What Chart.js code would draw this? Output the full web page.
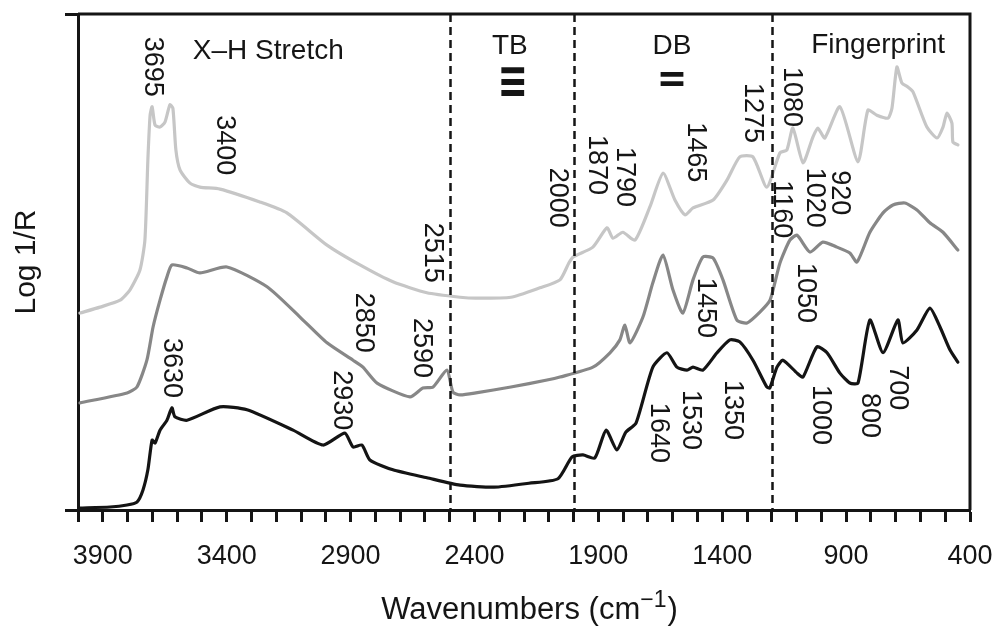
<!DOCTYPE html>
<html>
<head>
<meta charset="utf-8">
<script src="https://cdn.jsdelivr.net/npm/chart.js@4"></script>
<style>
  body { margin: 0; background: #fff; }
  #wrap { width: 997px; height: 626px; }
</style>
</head>
<body>
<div id="wrap"><canvas id="myChart" width="997" height="626"></canvas></div>
<script>
// spectra: wavenumber (cm-1) and log 1/R (arbitrary units)
const lightWn = [3992, 3911, 3830, 3790, 3750, 3730, 3718, 3709, 3701, 3689, 3669, 3649, 3629, 3617, 3605, 3588, 3548, 3508, 3427, 3266, 3157, 2995, 2862, 2729, 2592, 2458, 2394, 2253, 2136, 2055, 2019, 2002, 1922, 1865, 1841, 1801, 1752, 1692, 1639, 1591, 1550, 1518, 1437, 1381, 1329, 1276, 1220, 1167, 1139, 1115, 1074, 1034, 1014, 986, 925, 852, 812, 776, 731, 715, 695, 675, 651, 630, 574, 533, 509, 493, 473, 469, 449];
const lightLog = [39.7, 40.9, 42.3, 44.4, 48.4, 54.4, 70.6, 79.6, 81.3, 77.6, 77.2, 78.2, 81.7, 81.0, 72.6, 68.5, 65.9, 65.1, 64.7, 62.1, 59.9, 53.4, 49.4, 46.0, 43.8, 42.9, 42.7, 42.9, 44.8, 46.4, 49.8, 51.0, 53.0, 56.9, 54.8, 56.0, 54.4, 61.1, 67.9, 62.5, 59.5, 60.9, 62.5, 66.5, 71.2, 71.2, 65.1, 72.0, 72.6, 77.0, 70.0, 75.2, 77.0, 75.0, 81.3, 70.2, 80.6, 79.6, 79.0, 81.0, 89.3, 86.1, 85.3, 84.3, 77.2, 75.0, 77.2, 80.0, 78.0, 74.2, 73.6];

const midWn = [3992, 3802, 3762, 3722, 3697, 3669, 3641, 3621, 3560, 3508, 3399, 3237, 3104, 2995, 2890, 2850, 2793, 2660, 2608, 2567, 2511, 2487, 2458, 2394, 2253, 2107, 2055, 1922, 1853, 1813, 1793, 1772, 1720, 1680, 1639, 1599, 1559, 1518, 1478, 1437, 1397, 1341, 1300, 1248, 1207, 1167, 1127, 1098, 1046, 994, 937, 885, 856, 804, 751, 711, 663, 614, 562, 509, 449];
const midLog = [21.6, 23.6, 24.8, 30.2, 36.9, 42.3, 47.0, 49.4, 48.8, 47.8, 49.0, 45.0, 38.9, 33.7, 30.2, 28.8, 25.6, 22.8, 24.6, 24.8, 28.2, 23.8, 23.2, 23.6, 24.8, 26.2, 26.8, 28.8, 31.7, 34.3, 37.3, 33.7, 38.9, 45.8, 51.4, 44.4, 39.7, 46.4, 51.0, 50.8, 46.4, 38.3, 37.7, 39.9, 42.3, 49.8, 54.4, 55.4, 52.0, 54.0, 53.0, 51.8, 50.0, 56.0, 59.9, 61.5, 61.9, 60.5, 57.9, 56.0, 52.4];

const darkWn = [3992, 3871, 3802, 3762, 3738, 3718, 3701, 3689, 3669, 3641, 3621, 3609, 3560, 3427, 3318, 3132, 3011, 2923, 2890, 2854, 2822, 2729, 2592, 2458, 2321, 2180, 2063, 2006, 1962, 1914, 1869, 1825, 1789, 1748, 1680, 1623, 1583, 1542, 1518, 1478, 1421, 1369, 1329, 1276, 1220, 1208, 1179, 1155, 1098, 1074, 1018, 977, 925, 885, 852, 804, 751, 691, 671, 614, 562, 521, 481, 449];
const darkLog = [0.4, 0.6, 1.0, 1.6, 4.0, 8.1, 14.1, 13.5, 16.1, 18.1, 20.6, 18.8, 18.1, 20.8, 20.2, 16.1, 13.1, 15.5, 12.7, 13.1, 10.1, 8.1, 6.5, 5.0, 4.6, 5.4, 6.3, 10.7, 11.1, 10.5, 16.1, 12.1, 15.7, 17.5, 28.8, 31.7, 28.8, 28.2, 28.8, 28.2, 31.7, 34.3, 33.9, 30.2, 24.8, 24.6, 28.8, 30.2, 27.6, 26.8, 32.9, 31.7, 27.6, 25.6, 25.6, 38.3, 31.7, 38.3, 33.7, 36.3, 40.7, 36.9, 32.3, 29.8];

const tickLabels = [3900, 3400, 2900, 2400, 1900, 1400, 900, 400];
const regionBounds = [2500, 2000, 1200];

// band assignments: label, wavenumber of its centre, log 1/R at its start
const peakLabels = [
    ['3695', 3701, 95.4], ['3400', 3407, 79.6], ['2515', 2571, 57.9], ['2850', 2846, 43.8],
    ['2590', 2612, 38.7], ['3630', 3621, 34.7], ['2930', 2935, 28.2], ['2000', 2067, 69.0],
    ['1870', 1906, 75.6], ['1790', 1793, 73.2], ['1465', 1510, 78.2], ['1275', 1280, 86.1],
    ['1080', 1119, 89.3], ['1160', 1159, 66.5], ['1020', 1026, 69.0], ['920', 925, 68.5],
    ['1050', 1066, 49.8], ['1450', 1466, 46.8], ['1640', 1659, 21.6], ['1530', 1530, 24.2],
    ['1350', 1357, 26.2], ['1000', 1002, 25.2], ['800', 804, 23.6], ['700', 691, 29.2]
];
const regionLabels = [
    ['X\u2013H Stretch', 3232, 90.9], ['TB', 2257, 91.9], ['DB', 1603, 91.9], ['Fingerprint', 771, 92.1]
];
// symbol, wavenumber, log 1/R of its centre, horizontal and vertical stretch
const bondLabels = [['\u2261', 2245, 85.7, 1.4, 2.0], ['=', 1603, 86.5, 1.4, 1.6]];

const FONT = "'Liberation Sans', Arial, Helvetica, sans-serif";
const INK = '#151515';

function toPoints(wn, vals){
    let pts = [];
    for(let i = 0; i < wn.length; i++){
        pts.push({x: wn[i], y: vals[i]});
    }
    return pts;
}

const spectraDecor = {
    id: 'spectraDecor',
    afterDatasetsDraw(chart) {
        const { ctx, chartArea: {left, right, top, bottom}, scales: {x, y} } = chart;
        ctx.save();
        ctx.fillStyle = INK;

        // region names
        ctx.font = '28px ' + FONT;
        ctx.textAlign = 'center';
        ctx.textBaseline = 'alphabetic';
        regionLabels.forEach(([t, wn, v]) => {
            ctx.fillText(t, x.getPixelForValue(wn), y.getPixelForValue(v));
        });

        // bond symbols, stretched like the original
        bondLabels.forEach(([t, wn, v, sx, sy]) => {
            ctx.save();
            ctx.translate(x.getPixelForValue(wn), y.getPixelForValue(v));
            ctx.scale(sx, sy);
            ctx.font = "bold 26px 'DejaVu Sans', sans-serif";
            ctx.textAlign = 'center';
            ctx.textBaseline = 'middle';
            ctx.fillText(t, 0, 0);
            ctx.restore();
        });

        // rotated band labels
        ctx.font = '27px ' + FONT;
        ctx.textAlign = 'left';
        ctx.textBaseline = 'middle';
        peakLabels.forEach(([t, wn, v]) => {
            ctx.save();
            ctx.translate(x.getPixelForValue(wn), y.getPixelForValue(v));
            ctx.rotate(Math.PI / 2);
            ctx.fillText(t, 0, 0);
            ctx.restore();
        });

        // dashed region boundaries
        ctx.strokeStyle = INK;
        ctx.lineWidth = 2.5;
        ctx.setLineDash([8, 5]);
        regionBounds.forEach((wn) => {
            const px = Math.round(x.getPixelForValue(wn)) + 0.5;
            ctx.beginPath();
            ctx.moveTo(px, top);
            ctx.lineTo(px, bottom);
            ctx.stroke();
        });
        ctx.setLineDash([]);

        // frame: top and right
        ctx.lineWidth = 3;
        ctx.beginPath();
        ctx.moveTo(left, top);
        ctx.lineTo(right, top);
        ctx.lineTo(right, bottom);
        ctx.stroke();

        // x axis title with superscript
        const cx = (left + right) / 2 + 5;
        const base = 619;
        const mainFont = '31px ' + FONT, supFont = '23px ' + FONT;
        ctx.textAlign = 'left';
        ctx.textBaseline = 'alphabetic';
        ctx.font = mainFont;
        const w1 = ctx.measureText('Wavenumbers (cm').width;
        const w3 = ctx.measureText(')').width;
        ctx.font = supFont;
        const w2 = ctx.measureText('\u22121').width;
        let sx = cx - (w1 + w2 + w3) / 2;
        ctx.font = mainFont;
        ctx.fillText('Wavenumbers (cm', sx, base);
        ctx.font = supFont;
        ctx.fillText('\u22121', sx + w1, base - 12);
        ctx.font = mainFont;
        ctx.fillText(')', sx + w1 + w2 + 1, base);

        ctx.restore();
    }
};

const data = {
    datasets: [
        { label: 'light', data: toPoints(lightWn, lightLog), borderColor: '#c6c6c6' },
        { label: 'mid', data: toPoints(midWn, midLog), borderColor: '#878787' },
        { label: 'dark', data: toPoints(darkWn, darkLog), borderColor: '#141414' }
    ]
};

const options = {
    responsive: false,
    devicePixelRatio: 1,
    animation: false,
    layout: { padding: { top: 14, right: 27, left: 0, bottom: 0 } },
    elements: {
        point: { radius: 0 },
        line: { borderWidth: 3.2, tension: 0.2, fill: false, borderJoinStyle: 'round', borderCapStyle: 'round' }
    },
    plugins: {
        legend: { display: false },
        tooltip: { enabled: false }
    },
    scales: {
        x: {
            type: 'linear',
            min: 400,
            max: 4000,
            reverse: true,
            afterBuildTicks: (scale) => {
                let t = [];
                for(let v = 4000; v >= 400; v -= 100){ t.push({value: v}); }
                scale.ticks = t;
            },
            afterFit: (scale) => {
                scale.height = 116;
                scale.paddingLeft = 0;
                scale.paddingRight = 0;
            },
            ticks: {
                autoSkip: false,
                maxRotation: 0,
                padding: 18,
                color: INK,
                font: { family: FONT, size: 27 },
                callback: (v) => tickLabels.includes(v) ? String(v) : ''
            },
            grid: {
                drawOnChartArea: false,
                drawTicks: true,
                tickLength: 12,
                tickWidth: 3,
                tickColor: INK
            },
            border: { display: true, width: 3, color: INK }
        },
        y: {
            min: 0,
            max: 100,
            afterBuildTicks: (scale) => { scale.ticks = [{value: 0}, {value: 100}]; },
            afterFit: (scale) => { scale.width = 78; },
            ticks: { display: false },
            grid: {
                drawOnChartArea: false,
                drawTicks: true,
                tickLength: 13,
                tickWidth: 3,
                tickColor: INK
            },
            border: { display: true, width: 3, color: INK },
            title: {
                display: true,
                text: 'Log 1/R',
                color: INK,
                font: { family: FONT, size: 30 },
                padding: { top: 9, bottom: 0 }
            }
        }
    }
};

const chart = new Chart(document.getElementById('myChart'), {
    type: 'line',
    data: data,
    options: options,
    plugins: [spectraDecor]
});
</script>
</body>
</html>
